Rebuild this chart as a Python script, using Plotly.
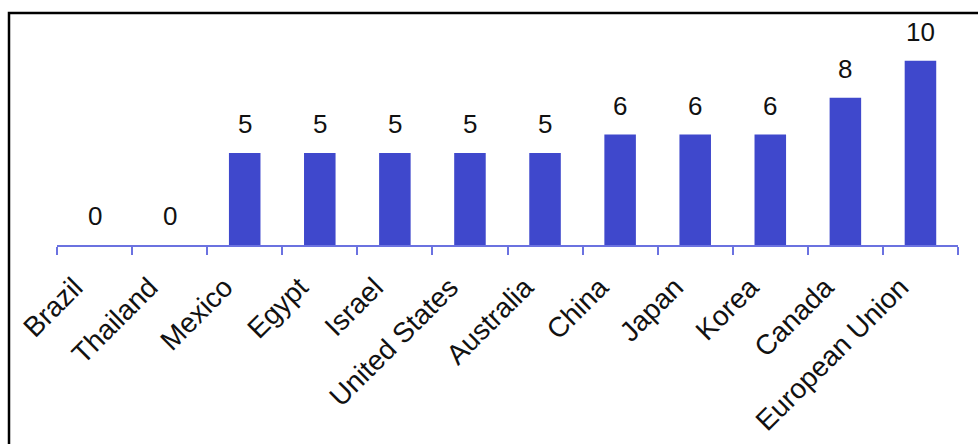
import plotly.graph_objects as go

categories = ["Brazil", "Thailand", "Mexico", "Egypt", "Israel", "United States",
              "Australia", "China", "Japan", "Korea", "Canada", "European Union"]
values = [0, 0, 5, 5, 5, 5, 5, 6, 6, 6, 8, 10]

W, H = 978, 444
ml, mr, mt, mb = 57, 20, 24, 199
pw = W - ml - mr
ph = H - mt - mb
ymax = 12

fig = go.Figure()
fig.add_trace(go.Bar(
    x=categories, y=values,
    marker=dict(color="#3F48CC", line=dict(width=0)),
    width=0.42,
))

for c, v in zip(categories, values):
    fig.add_annotation(x=c, y=v, text=str(v), showarrow=False,
                       xref="x", yref="y", yanchor="middle", yshift=29,
                       font=dict(family="Liberation Sans, Arial", size=26, color="#111111"))

x0 = (9 - ml) / pw
x1 = (990 - ml) / pw
y0 = 1 - (460 - mt) / ph
y1 = 1 - (13 - mt) / ph
fig.add_shape(type="rect", xref="paper", yref="paper", x0=x0, x1=x1, y0=y0, y1=y1,
              line=dict(color="black", width=2.5), fillcolor="rgba(0,0,0,0)", layer="above")

fig.update_layout(
    width=W, height=H,
    margin=dict(l=ml, r=mr, t=mt, b=mb, autoexpand=False),
    plot_bgcolor="white", paper_bgcolor="white",
    showlegend=False,
    font=dict(family="Liberation Sans, Arial", size=28, color="#111111"),
)
fig.update_xaxes(
    type="category", tickangle=-45, showline=True, linecolor="#6B72E0", linewidth=1.5,
    ticks="outside", tickson="boundaries", ticklen=8, tickcolor="#6B72E0", tickwidth=1.5,
    showgrid=False, range=[-0.5, len(categories) - 0.5], automargin=False,
    tickfont=dict(family="Liberation Sans, Arial", size=28, color="#111111"),
    ticklabelstandoff=13, ticklabelshift=-20,
)
fig.update_yaxes(range=[0, ymax], visible=False, showgrid=False, zeroline=False)

fig.write_html("out.html")
